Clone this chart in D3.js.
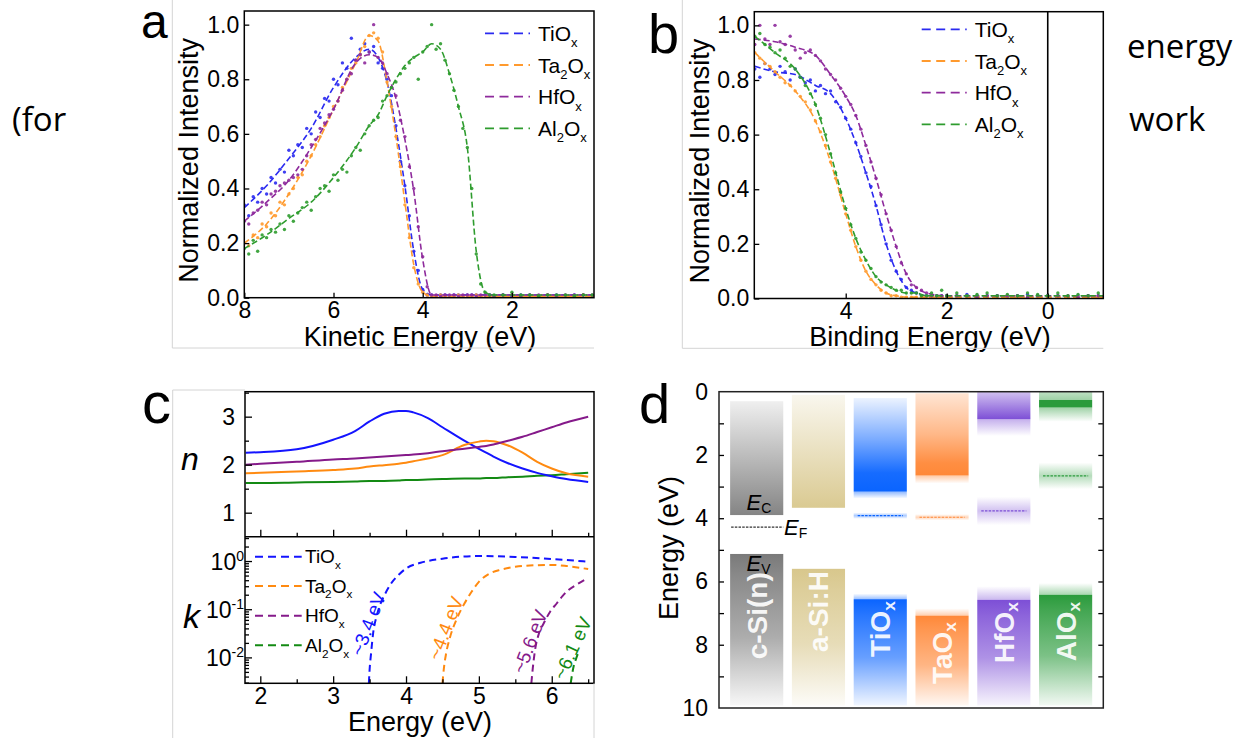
<!DOCTYPE html>
<html><head><meta charset="utf-8">
<script src="https://cdn.jsdelivr.net/npm/d3@7"></script>
<style>
body{margin:0;background:#fff;}
svg{display:block;font-family:"Liberation Sans",Arial,sans-serif;}
</style></head><body>
<svg id="fig" width="1251" height="738"></svg>
<script>
// ================= DATA =================
// Panel a : UPS secondary-electron cut-off (kinetic energy, eV)
const gridA = [8.0,7.9,7.8,7.7,7.6,7.5,7.4,7.3,7.2,7.1,7.0,6.9,6.8,6.7,6.6,6.5,6.4,6.3,6.2,6.1,6.0,5.9,5.8,5.7,5.6,5.5,5.4,5.3,5.2,5.1,5.0,4.9,4.8,4.7,4.6,4.5,4.4,4.3,4.2,4.1,4.0,3.9,3.8,3.7,3.6,3.5,3.4,3.3,3.2,3.1,3.0,2.9,2.8,2.7,2.6,2.5,2.4,2.2,2.0,1.8,1.6,1.4,1.2,1.0,0.8,0.6,0.4,0.2];
const dotsA_TiOx = [.34,.30,.37,.35,.40,.38,.44,.42,.47,.46,.54,.52,.56,.55,.62,.60,.68,.66,.73,.72,.80,.78,.86,.84,.95,.87,.91,.93,.90,.92,.86,.84,.80,.74,.63,.50,.41,.30,.17,.10,.03,.01,.01,.005,.01,.01,.005,.01,.01,.005,.01,.01,.01,.005,.01,.01,.005,.01,.005,.01,.01,.005,.01,.01,.005,.01,.01,.005];
const dotsA_Ta2Ox = [.20,.19,.23,.22,.27,.26,.31,.30,.35,.34,.38,.40,.44,.45,.50,.52,.56,.59,.63,.66,.70,.72,.77,.80,.84,.86,.89,.92,.96,.97,.95,.90,.79,.70,.59,.48,.34,.22,.11,.05,.02,.01,.005,.005,.01,.005,.005,.005,.01,.005,.005,.005,.01,.005,.005,.005,.005,.005,.01,.005,.005,.005,.01,.005,.005,.005,.01,.005];
const dotsA_HfOx = [.28,.27,.31,.32,.35,.34,.38,.39,.41,.42,.43,.44,.45,.47,.52,.56,.58,.62,.64,.67,.69,.72,.76,.80,.82,.87,.89,.86,.90,1.00,.88,.86,.82,.77,.74,.65,.59,.48,.40,.26,.15,.04,.01,.01,.005,.01,.01,.01,.005,.01,.01,.01,.005,.01,.01,.01,.005,.01,.01,.005,.01,.01,.01,.005,.01,.01,.01,.01];
const dotsA_Al2Ox = [.18,.16,.21,.17,.23,.22,.25,.24,.27,.25,.30,.28,.31,.33,.35,.32,.37,.40,.41,.39,.45,.43,.47,.46,.52,.55,.54,.60,.63,.65,.66,.72,.74,.77,.79,.82,.84,.86,.88,.80,.90,.92,1.00,.91,.93,.87,.82,.76,.70,.62,.55,.40,.16,.05,.02,.01,.01,.01,.02,.01,.01,.005,.01,.01,.01,.005,.01,.01];
const fitGridA = [8.0,7.5,7.0,6.5,6.0,5.5,5.2,5.0,4.8,4.6,4.4,4.2,4.0,3.8,3.6,3.4,3.2,3.0,2.8,2.6,2.4,2.0,1.0,0.16];
const fitA_TiOx = [.33,.41,.51,.62,.77,.88,.91,.88,.79,.62,.41,.17,.03,.01,.01,.01,.01,.01,.01,.01,.01,.01,.01,.01];
const fitA_Ta2Ox = [.20,.27,.38,.52,.69,.86,.96,.94,.79,.59,.35,.12,.02,.005,.005,.005,.005,.005,.005,.005,.005,.005,.005,.005];
const fitA_HfOx = [.28,.35,.43,.55,.69,.86,.89,.88,.82,.73,.58,.39,.14,.01,.01,.01,.01,.01,.01,.01,.01,.01,.01,.01];
const fitA_Al2Ox = [.18,.23,.29,.35,.44,.55,.63,.67,.74,.80,.85,.88,.90,.93,.91,.82,.70,.55,.17,.02,.01,.01,.01,.01];
const ticksA_x = [8,6,4,2];
const ticksY01 = [0,0.2,0.4,0.6,0.8,1.0];

// Panel b : UPS valence-band edge (binding energy, eV)
const gridB = [5.8,5.7,5.6,5.5,5.4,5.3,5.2,5.1,5.0,4.9,4.8,4.7,4.6,4.5,4.4,4.3,4.2,4.1,4.0,3.9,3.8,3.7,3.6,3.5,3.4,3.3,3.2,3.1,3.0,2.9,2.8,2.7,2.6,2.5,2.4,2.3,2.2,2.1,2.0,1.8,1.6,1.4,1.2,1.0,0.8,0.6,0.4,0.2,0.0,-0.2,-0.4,-0.6,-0.8,-1.0];
const dotsB_TiOx = [.84,.81,.86,.84,.82,.85,.83,.80,.84,.81,.79,.80,.76,.78,.75,.76,.72,.70,.66,.62,.57,.52,.46,.41,.34,.27,.20,.14,.10,.07,.04,.03,.02,.01,.01,.01,.01,.01,.01,.01,.015,.01,.01,.01,.005,.01,.015,.01,.01,.01,.005,.01,.01,.01];
const dotsB_Ta2Ox = [.90,.88,.86,.85,.83,.81,.79,.78,.76,.74,.72,.69,.65,.61,.56,.50,.44,.38,.31,.25,.19,.14,.10,.07,.05,.03,.02,.01,.01,.005,.005,.005,.005,.005,.005,.005,.005,.005,.005,.005,.005,.005,.005,.005,.005,.005,.005,.005,.005,.005,.005,.005,.005,.005];
const dotsB_HfOx = [.93,1.00,.95,.93,1.00,.94,.93,.96,.91,.88,.90,.91,.89,.87,.84,.82,.80,.77,.74,.71,.67,.62,.56,.50,.44,.38,.31,.25,.19,.13,.09,.05,.04,.03,.02,.01,.01,.01,.01,.01,.01,.005,.01,.01,.01,.01,.005,.01,.01,.01,.01,.005,.01,.01];
const dotsB_Al2Ox = [.96,.97,.93,.92,.90,.91,.88,.85,.84,.81,.78,.75,.71,.66,.60,.53,.46,.39,.33,.27,.22,.17,.14,.11,.08,.06,.05,.04,.03,.03,.02,.02,.02,.01,.01,.02,.01,.03,.01,.02,.01,.015,.02,.01,.015,.01,.02,.015,.01,.02,.01,.015,.01,.02];
const fitGridB = [5.8,5.4,5.0,4.6,4.3,4.0,3.8,3.6,3.4,3.2,3.0,2.8,2.6,2.4,2.0,1.0,0,-1.1];
const fitB_TiOx = [.85,.83,.82,.78,.75,.66,.57,.46,.34,.20,.10,.04,.02,.01,.01,.01,.01,.01];
const fitB_Ta2Ox = [.90,.83,.76,.65,.50,.31,.19,.10,.05,.02,.01,.005,.005,.005,.005,.005,.005,.005];
const fitB_HfOx = [.95,.94,.92,.89,.82,.74,.67,.56,.44,.31,.19,.09,.04,.02,.01,.01,.01,.01];
const fitB_Al2Ox = [.96,.90,.84,.71,.53,.33,.22,.14,.08,.05,.03,.02,.02,.01,.01,.01,.01,.01];
const ticksB_x = [4,2,0];

// Panel c : optical constants n and k vs photon energy (eV)
const gridN = [1.8,2.0,2.5,3.0,3.3,3.5,3.7,3.9,4.0,4.1,4.3,4.5,4.8,5.0,5.1,5.2,5.4,5.6,5.8,6.0,6.2,6.5];
const n_TiOx = [2.25,2.26,2.32,2.52,2.70,2.90,3.06,3.12,3.12,3.09,2.97,2.78,2.50,2.33,2.25,2.17,2.03,1.92,1.83,1.76,1.70,1.64];
const n_Ta2Ox = [1.82,1.83,1.86,1.89,1.92,1.96,1.99,2.02,2.04,2.07,2.13,2.20,2.41,2.48,2.50,2.49,2.40,2.25,2.06,1.92,1.82,1.75];
const n_HfOx = [2.00,2.02,2.06,2.11,2.13,2.15,2.17,2.19,2.20,2.21,2.24,2.28,2.33,2.37,2.39,2.42,2.50,2.58,2.68,2.78,2.88,3.00];
const n_Al2Ox = [1.62,1.62,1.63,1.64,1.65,1.66,1.66,1.67,1.68,1.68,1.69,1.70,1.71,1.71,1.72,1.72,1.74,1.75,1.77,1.78,1.80,1.83];
const kE_TiOx = [3.49,3.5,3.52,3.55,3.6,3.65,3.7,3.8,3.9,4.0,4.2,4.5,5.0,5.5,6.0,6.5];
const k_TiOx = [0.0029,0.0055,0.012,0.033,0.075,0.13,0.19,0.35,0.52,0.70,0.92,1.12,1.27,1.22,1.1,0.97];
const kE_Ta2Ox = [4.5,4.52,4.55,4.6,4.7,4.8,4.9,5.0,5.15,5.3,5.5,5.8,6.0,6.2,6.5];
const k_Ta2Ox = [0.0029,0.006,0.012,0.025,0.065,0.13,0.23,0.37,0.55,0.66,0.76,0.82,0.83,0.79,0.68];
const kE_HfOx = [5.72,5.74,5.77,5.82,5.89,5.98,6.07,6.15,6.23,6.35,6.47];
const k_HfOx = [0.0029,0.006,0.014,0.03,0.051,0.09,0.133,0.19,0.25,0.33,0.42];
const kE_Al2Ox = [6.26,6.28,6.30,6.33,6.36];
const k_Al2Ox = [0.0029,0.0045,0.0065,0.009,0.012];
const gapLabels = ["~3.4 eV","~4.4 eV","~5.6 eV","~6.1 eV"];
const ticksC_x = [2,3,4,5,6];
const ticksC_xMinor = [2.5,3.5,4.5,5.5,6.5];
const ticksN = [1,2,3];
const ticksNMinor = [1.5,2.5,3.5];
const ticksK = [0.01,0.1,1];

// Panel d : band alignment (eV below vacuum)
const materials = ["c-Si(n)","a-Si:H","TiOx","TaOx","HfOx","AlOx"];
const cbTop  = [0.3,0.1,0.2,0.05,0.0,0.0];
const cbEdge = [3.9,3.67,3.16,2.65,0.87,0.5];
const cbTail = [3.9,3.67,3.38,2.9,1.4,0.95];
const vbEdge = [5.13,5.6,6.56,7.08,6.58,6.42];
const vbTail = [5.13,5.6,6.38,6.85,6.15,6.05];
const defectLevel = [4.28,null,3.92,3.97,3.77,2.66];
const defectHalfWidth = [0,0,0.1,0.1,0.45,0.42];
const ticksD = [0,2,4,6,8,10];
const ticksDMinor = [1,2,3,4,5,6,7,8,9];

// ================= STYLE / LAYOUT =================
const seriesNames = [
  [["TiO",0],["x",1]],
  [["Ta",0],["2",1],["O",0],["x",1]],
  [["HfO",0],["x",1]],
  [["Al",0],["2",1],["O",0],["x",1]]
];
const dotColors = ["#2a2af0","#ff9a2e","#8e2a9c","#2e9c2e"];
const lineColors = ["#1414ff","#ff8a10","#851a8a","#138a13"];
const bandColors = ["#7a7a7a","#d8c78c","#0a64ff","#ff8838","#7d4fd6","#2b9b3c"];
const bandLabels = [[["c-Si(n)",0]],[["a-Si:H",0]],[["TiO",0],["x",1]],[["TaO",0],["x",1]],[["HfO",0],["x",1]],[["AlO",0],["x",1]]];
const bandLabelY = [615.8,611.5,629,653,632.5,631.5];
const cbStops = [
  [[0,0.12],[1,0.92]],
  [[0,0.15],[1,0.95]],
  [[0,0.08],[0.45,0.55],[0.8,0.95],[1,1]],
  [[0,0.22],[0.5,0.6],[0.85,0.95],[1,1]],
  [[0,0.35],[1,1]],
  [[0,0.3],[0.5,0.45],[0.55,1],[1,1]]
];

const svg = d3.select("#fig");
const defs = svg.append("defs");

function addRich(textSel, parts, fs){
  let shifted = false;
  parts.forEach(([t,sub])=>{
    const ts = textSel.append("tspan").text(t);
    if(sub){
      ts.attr("font-size", fs*0.62);
      if(!shifted){ ts.attr("dy", fs*0.3); shifted = true; }
    } else if(shifted){ ts.attr("dy", -fs*0.3); shifted = false; }
  });
  return textSel;
}
function styleAxis(sel, fs){
  sel.attr("font-size", fs).attr("font-family", null);
  sel.select(".domain").remove();
  sel.selectAll(".tick line").attr("stroke","#000").attr("stroke-width",1.3);
  sel.selectAll(".tick text").attr("fill","#000");
  return sel;
}
function grayLine(x1,y1,x2,y2){
  svg.append("line").attr("x1",x1).attr("y1",y1).attr("x2",x2).attr("y2",y2)
    .attr("stroke","#d4d4d4").attr("stroke-width",1);
}
function panelLetter(t,x,y,fs){
  svg.append("text").attr("x",x).attr("y",y).attr("font-size",fs).text(t);
}

// side words of surrounding page text
svg.append("text").attr("x",12).attr("y",131).attr("font-family","'Open Sans',sans-serif").attr("font-size",33).text("(for");
svg.append("text").attr("x",1127).attr("y",58).attr("font-family","'Open Sans',sans-serif").attr("font-size",33).text("energy");
svg.append("text").attr("x",1129).attr("y",131).attr("font-family","'Open Sans',sans-serif").attr("font-size",33).text("work");

// ================= spectra panels a & b =================
function spectra(cfg){
  const g = svg.append("g");
  const x = d3.scaleLinear().domain(cfg.xDom).range([cfg.left,cfg.right]);
  const y = d3.scaleLinear().domain([0,1.05]).range([cfg.bottom,cfg.top]);
  const clipId = "clip"+cfg.id;
  defs.append("clipPath").attr("id",clipId).append("rect")
    .attr("x",cfg.left).attr("y",cfg.top).attr("width",cfg.right-cfg.left).attr("height",cfg.bottom-cfg.top);
  const plot = g.append("g").attr("clip-path",`url(#${clipId})`);
  if(cfg.zeroLine!==undefined){
    plot.append("line").attr("x1",x(0)).attr("x2",x(0)).attr("y1",cfg.top).attr("y2",cfg.bottom)
      .attr("stroke","#000").attr("stroke-width",1.6);
  }
  const line = d3.line().x(d=>x(d[0])).y(d=>y(d[1])).curve(d3.curveMonotoneX);
  cfg.series.forEach((s,i)=>{
    plot.append("g").selectAll("circle").data(cfg.grid.map((e,j)=>[e,s.dots[j]])).join("circle")
      .attr("cx",d=>x(d[0])).attr("cy",d=>y(d[1])).attr("r",1.7).attr("fill",dotColors[i]).attr("opacity",0.9);
    plot.append("path").datum(cfg.fitGrid.map((e,j)=>[e,s.fit[j]])).attr("d",line)
      .attr("fill","none").attr("stroke",dotColors[i]).attr("stroke-width",1.6).attr("stroke-dasharray","6,3");
  });
  styleAxis(g.append("g").attr("transform",`translate(${cfg.left},0)`)
    .call(d3.axisLeft(y).tickValues(ticksY01).tickFormat(d3.format(".1f")).tickSize(-5).tickPadding(5)),23);
  styleAxis(g.append("g").attr("transform",`translate(0,${cfg.bottom})`)
    .call(d3.axisBottom(x).tickValues(cfg.xTicks).tickFormat(d3.format("d")).tickSize(-5).tickPadding(4)),23);
  g.append("rect").attr("x",cfg.left).attr("y",cfg.top).attr("width",cfg.right-cfg.left).attr("height",cfg.bottom-cfg.top)
    .attr("fill","none").attr("stroke","#000").attr("stroke-width",1.5);
  g.append("text").attr("transform",`translate(${cfg.yLabX},${(cfg.top+cfg.bottom)/2+6}) rotate(-90)`)
    .attr("text-anchor","middle").attr("font-size",27).text("Normalized Intensity");
  g.append("text").attr("x",cfg.xLabX).attr("y",346).attr("text-anchor","middle").attr("font-size",27).text(cfg.xLabel);
  // legend
  cfg.series.forEach((s,i)=>{
    const yy = cfg.legY + i*31.7;
    g.append("line").attr("x1",cfg.legX).attr("x2",cfg.legX+45).attr("y1",yy).attr("y2",yy)
      .attr("stroke",dotColors[i]).attr("stroke-width",1.8).attr("stroke-dasharray","9,5.5");
    addRich(g.append("text").attr("x",cfg.legX+53).attr("y",yy+7.5).attr("font-size",21), seriesNames[i], 21);
  });
}

spectra({id:"a", xDom:[8,0.16], left:244.3, right:594, top:11, bottom:297.7, grid:gridA, fitGrid:fitGridA,
  xTicks:ticksA_x, yLabX:198, xLabX:420, xLabel:"Kinetic Energy (eV)", legX:485, legY:33.3,
  series:[{dots:dotsA_TiOx,fit:fitA_TiOx},{dots:dotsA_Ta2Ox,fit:fitA_Ta2Ox},{dots:dotsA_HfOx,fit:fitA_HfOx},{dots:dotsA_Al2Ox,fit:fitA_Al2Ox}]});
spectra({id:"b", xDom:[5.81,-1.1], left:754.3, right:1103.3, top:11.7, bottom:298.5, grid:gridB, fitGrid:fitGridB,
  xTicks:ticksB_x, yLabX:709, xLabX:930, xLabel:"Binding Energy (eV)", legX:921.7, legY:29.3, zeroLine:true,
  series:[{dots:dotsB_TiOx,fit:fitB_TiOx},{dots:dotsB_Ta2Ox,fit:fitB_Ta2Ox},{dots:dotsB_HfOx,fit:fitB_HfOx},{dots:dotsB_Al2Ox,fit:fitB_Al2Ox}]});

grayLine(172.3,0,172.3,348); grayLine(172.3,348,594,348);
grayLine(682.3,0,682.3,348.3); grayLine(682.3,348.3,1103.3,348.3);
panelLetter("a",141,38,48);
panelLetter("b",648,53,56);

// ================= panel c =================
(function(){
  const L=245, R=594, T=391.7, M=536.7, B=683.3;
  const g = svg.append("g");
  const x = d3.scaleLinear().domain([1.79,6.58]).range([L,R]);
  const yN = d3.scaleLinear().domain([0.5,3.52]).range([M,T]);
  const yK = d3.scaleLog().domain([0.0029,3.2]).range([B,M]);
  grayLine(172.7,390,172.7,738); grayLine(172.7,390,L,390); grayLine(R,B,R,738);
  defs.append("clipPath").attr("id","clipN").append("rect").attr("x",L).attr("y",T).attr("width",R-L).attr("height",M-T);
  defs.append("clipPath").attr("id","clipK").append("rect").attr("x",L).attr("y",M).attr("width",R-L).attr("height",B-M);
  const nSeries = [n_TiOx,n_Ta2Ox,n_HfOx,n_Al2Ox];
  const lineN = d3.line().x(d=>x(d[0])).y(d=>yN(d[1])).curve(d3.curveMonotoneX);
  const gn = g.append("g").attr("clip-path","url(#clipN)");
  [3,0,1,2].forEach(i=>{
    gn.append("path").datum(gridN.map((e,j)=>[e,nSeries[i][j]])).attr("d",lineN)
      .attr("fill","none").attr("stroke",lineColors[i]).attr("stroke-width",2);
  });
  const kE = [kE_TiOx,kE_Ta2Ox,kE_HfOx,kE_Al2Ox], kV = [k_TiOx,k_Ta2Ox,k_HfOx,k_Al2Ox];
  const lineK = d3.line().x(d=>x(d[0])).y(d=>yK(d[1])).curve(d3.curveMonotoneX);
  const gk = g.append("g").attr("clip-path","url(#clipK)");
  kE.forEach((es,i)=>{
    gk.append("path").datum(es.map((e,j)=>[e,kV[i][j]])).attr("d",lineK)
      .attr("fill","none").attr("stroke",lineColors[i]).attr("stroke-width",2).attr("stroke-dasharray","7,4.5");
  });
  // axes
  styleAxis(g.append("g").attr("transform",`translate(0,${B})`)
    .call(d3.axisBottom(x).tickValues(ticksC_x).tickFormat(d3.format("d")).tickSize(-7).tickPadding(4)),23);
  styleAxis(g.append("g").attr("transform",`translate(0,${B})`)
    .call(d3.axisBottom(x).tickValues(ticksC_xMinor).tickFormat("").tickSize(-4)),23);
  styleAxis(g.append("g").attr("transform",`translate(0,${M})`)
    .call(d3.axisBottom(x).tickValues(ticksC_x).tickFormat("").tickSize(-7)),23);
  styleAxis(g.append("g").attr("transform",`translate(0,${M})`)
    .call(d3.axisBottom(x).tickValues(ticksC_xMinor).tickFormat("").tickSize(-4)),23);
  styleAxis(g.append("g").attr("transform",`translate(${L},0)`)
    .call(d3.axisLeft(yN).tickValues(ticksN).tickFormat(d3.format("d")).tickSize(-7).tickPadding(10)),23);
  styleAxis(g.append("g").attr("transform",`translate(${L},0)`)
    .call(d3.axisLeft(yN).tickValues(ticksNMinor).tickFormat("").tickSize(-4)),23);
  const minorK = [];
  [0.001,0.01,0.1,1].forEach(dec=>{ for(let m=2;m<=9;m++){ const v=m*dec; if(v>=0.0029 && v<=3.2) minorK.push(v);} });
  styleAxis(g.append("g").attr("transform",`translate(${L},0)`)
    .call(d3.axisLeft(yK).tickValues(minorK).tickFormat("").tickSize(-4)),23);
  const ka = styleAxis(g.append("g").attr("transform",`translate(${L},0)`)
    .call(d3.axisLeft(yK).tickValues(ticksK).tickFormat("").tickSize(-7)),23);
  ka.selectAll(".tick").each(function(d){
    const t = d3.select(this).append("text").attr("x",-1).attr("dy","0.36em").attr("text-anchor","end").attr("fill","#000").attr("font-size",23);
    t.append("tspan").text("10");
    t.append("tspan").attr("dy",-9).attr("font-size",14).text(String(Math.round(Math.log10(d))));
  });
  g.append("rect").attr("x",L).attr("y",T).attr("width",R-L).attr("height",B-T).attr("fill","none").attr("stroke","#000").attr("stroke-width",1.5);
  g.append("line").attr("x1",L).attr("x2",R).attr("y1",M).attr("y2",M).attr("stroke","#000").attr("stroke-width",1.5);
  g.append("text").attr("x",420).attr("y",731).attr("text-anchor","middle").attr("font-size",27).text("Energy (eV)");
  g.append("text").attr("x",181).attr("y",470).attr("font-size",32).attr("font-style","italic").text("n");
  g.append("text").attr("x",183).attr("y",628).attr("font-size",34).attr("font-style","italic").text("k");
  // legend
  seriesNames.forEach((p,i)=>{
    const yy = [556.7,586,615.7,645.3][i];
    g.append("line").attr("x1",255).attr("x2",301.7).attr("y1",yy).attr("y2",yy)
      .attr("stroke",lineColors[i]).attr("stroke-width",2).attr("stroke-dasharray","8,5");
    addRich(g.append("text").attr("x",305).attr("y",yy+6.5).attr("font-size",19),p,19);
  });
  // gap annotations
  const annPos = [[368.3,624,-69],[445.7,628.3,-68.5],[530,641.7,-69],[572.5,648.3,-65]];
  gapLabels.forEach((t,i)=>{
    g.append("text").attr("transform",`translate(${annPos[i][0]},${annPos[i][1]}) rotate(${annPos[i][2]})`)
      .attr("text-anchor","middle").attr("dominant-baseline","central").attr("font-size",19)
      .attr("fill",lineColors[i]).text(t);
  });
})();
panelLetter("c",142,423,58);

// ================= panel d =================
(function(){
  const L=719, R=1103.3, T=391.7, B=708;
  const g = svg.append("g");
  const x = d3.scaleBand().domain(materials).range([L,R]).paddingInner(0.14).paddingOuter(0.18);
  const y = d3.scaleLinear().domain([0,10]).range([T,B]);
  function grad(id,color,stops){
    const lg = defs.append("linearGradient").attr("id",id).attr("x1",0).attr("y1",0).attr("x2",0).attr("y2",1);
    stops.forEach(([o,a])=>lg.append("stop").attr("offset",o).attr("stop-color",color).attr("stop-opacity",a));
    return `url(#${id})`;
  }
  materials.forEach((m,i)=>{
    const x0 = x(m), w = x.bandwidth(), c = bandColors[i];
    const rect = (e1,e2,fill)=>g.append("rect").attr("x",x0).attr("width",w).attr("y",y(e1)).attr("height",Math.max(0,y(e2)-y(e1))).attr("fill",fill);
    rect(cbTop[i],cbEdge[i],grad("cb"+i,c,cbStops[i]));
    if(cbTail[i]>cbEdge[i]) rect(cbEdge[i],cbTail[i],grad("cbt"+i,c,[[0,0.45],[1,0]]));
    if(vbTail[i]<vbEdge[i]) rect(vbTail[i],vbEdge[i],grad("vbt"+i,c,[[0,0],[1,0.4]]));
    rect(vbEdge[i],9.92,grad("vb"+i,c,[[0,1],[0.15,0.88],[0.55,0.62],[1,0.06]]));
    if(defectLevel[i]!==null){
      if(defectHalfWidth[i]>0) rect(defectLevel[i]-defectHalfWidth[i],defectLevel[i]+defectHalfWidth[i],grad("df"+i,c,[[0,0],[0.5,0.35],[1,0]]));
      g.append("line").attr("x1",x0+(i===0?1:4)).attr("x2",x0+w-(i===0?0:4)).attr("y1",y(defectLevel[i])).attr("y2",y(defectLevel[i]))
        .attr("stroke",i===0?"#333":c).attr("stroke-width",1.2).attr("stroke-dasharray","2.5,1.2");
    }
    const t = g.append("text").attr("transform",`translate(${x0+w/2},${bandLabelY[i]}) rotate(-90)`)
      .attr("text-anchor","middle").attr("dominant-baseline","central").attr("font-size",28).attr("font-weight","bold")
      .attr("fill","#fff").attr("fill-opacity",0.92);
    addRich(t,bandLabels[i],28);
  });
  // E labels
  const eLab = (xx,yy,sub)=>{
    const t = g.append("text").attr("x",xx).attr("y",yy).attr("font-size",22);
    t.append("tspan").attr("font-style","italic").text("E");
    t.append("tspan").attr("font-size",14).attr("dy",3).text(sub);
  };
  eLab(746.5,510,"C"); eLab(784,535,"F"); eLab(746.5,571,"V");
  styleAxis(g.append("g").attr("transform",`translate(${L},0)`)
    .call(d3.axisLeft(y).tickValues(ticksD).tickFormat(d3.format("d")).tickSize(0).tickPadding(11)),23);
  styleAxis(g.append("g").attr("transform",`translate(${L},0)`)
    .call(d3.axisLeft(y).tickValues(ticksDMinor).tickFormat("").tickSize(-5)),23);
  styleAxis(g.append("g").attr("transform",`translate(${R},0)`)
    .call(d3.axisRight(y).tickValues(ticksDMinor).tickFormat("").tickSize(-5)),23);
  g.append("rect").attr("x",L).attr("y",T).attr("width",R-L).attr("height",B-T).attr("fill","none").attr("stroke","#222").attr("stroke-width",1.5);
  g.append("text").attr("transform",`translate(678,548) rotate(-90)`).attr("text-anchor","middle").attr("font-size",27).text("Energy (eV)");
})();
panelLetter("d",639,423,56);
</script></body></html>
